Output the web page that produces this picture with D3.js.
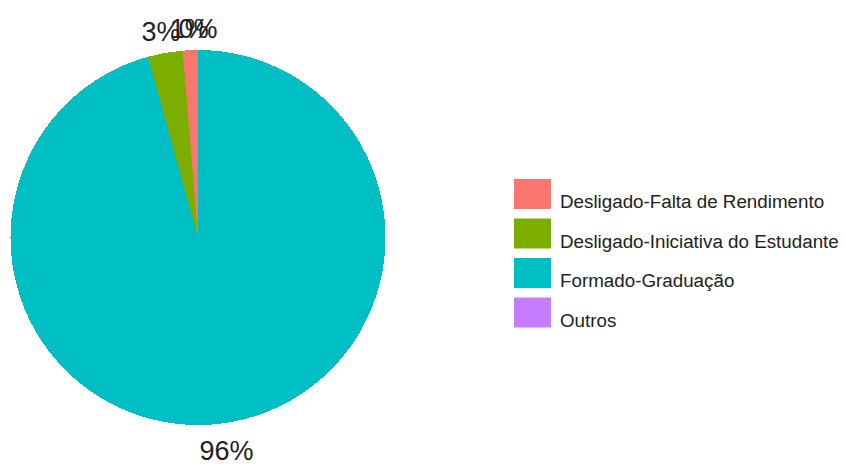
<!DOCTYPE html>
<html>
<head>
<meta charset="utf-8">
<script src="https://cdn.jsdelivr.net/npm/d3@7"></script>
<style>
  body { margin: 0; background: #fff; }
  text { font-family: "Liberation Sans", Arial, sans-serif; }
</style>
</head>
<body>
<svg id="chart" width="845" height="466"></svg>
<script>
// categories and shares (percent)
const categories = ["Desligado-Falta de Rendimento", "Desligado-Iniciativa do Estudante", "Formado-Graduação", "Outros"];
const shares = [1.3, 3.0, 95.7, 0];
const colors = ["#F8766D", "#7CAE00", "#00BFC4", "#C77CFF"];

const svg = d3.select("#chart");
const cx = 198, cy = 237.5, r = 187.5, labelR = 212;

const data = categories.map((c, i) => ({cat: c, value: shares[i], color: colors[i]}));
const total = d3.sum(shares);

// ggplot coord_polar style: starts at 12 o'clock, goes counter-clockwise
const pie = d3.pie()
    .value(d => d.value)
    .sort(null)
    .startAngle(0)
    .endAngle(-2 * Math.PI);

const arcs = pie(data);
const arc = d3.arc().innerRadius(0).outerRadius(r);

const g = svg.append("g").attr("transform", `translate(${cx},${cy})`);

g.selectAll("path")
    .data(arcs)
    .join("path")
    .attr("d", arc)
    .attr("fill", d => d.data.color)
    .attr("shape-rendering", "crispEdges");

// percentage labels outside the pie (they overlap at the top, as in the original)
g.selectAll("text.pct")
    .data(arcs)
    .join("text")
    .attr("class", "pct")
    .attr("x", d => labelR * Math.sin((d.startAngle + d.endAngle) / 2))
    .attr("y", d => -labelR * Math.cos((d.startAngle + d.endAngle) / 2))
    .attr("text-anchor", "middle")
    .attr("dy", "0.46em")
    .attr("font-size", 27)
    .attr("fill", "#222")
    .text(d => Math.round(d.data.value / total * 100) + "%");

// legend
const legend = svg.append("g").attr("transform", "translate(514,179)");
const item = legend.selectAll("g")
    .data(data)
    .join("g")
    .attr("transform", (d, i) => `translate(0,${i * 39.5})`);

item.append("rect")
    .attr("width", 37)
    .attr("height", 30)
    .attr("fill", d => d.color);

item.append("text")
    .attr("x", 46)
    .attr("y", 29)
    .attr("font-size", 18.8)
    .attr("fill", "#222")
    .text(d => d.cat);
</script>
</body>
</html>
